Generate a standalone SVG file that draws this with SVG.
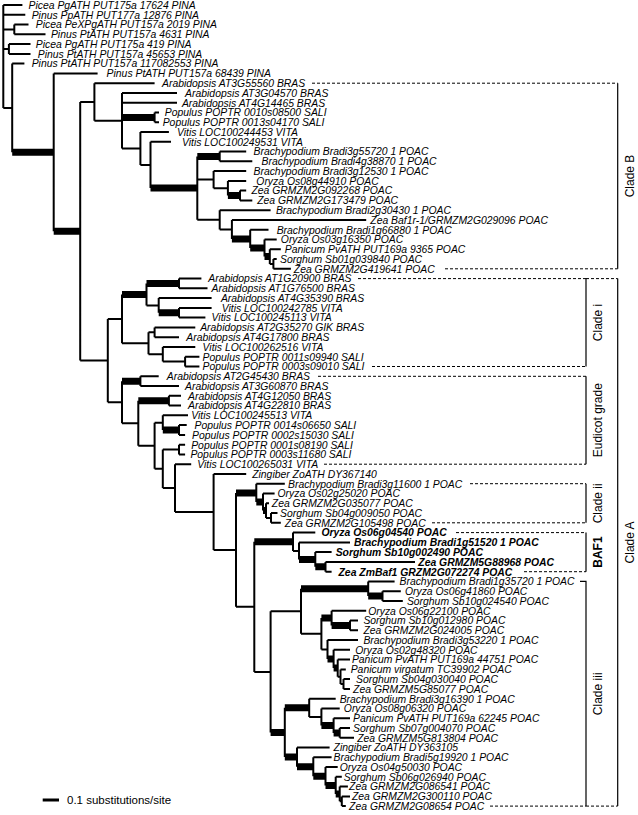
<svg xmlns="http://www.w3.org/2000/svg" width="638" height="815" viewBox="0 0 638 815">
<style>
.thin{fill:none;stroke:#000;stroke-width:2;stroke-linecap:butt}
.thick{fill:none;stroke:#000;stroke-width:7;stroke-linecap:butt}
.br{fill:none;stroke:#000;stroke-width:1.2}
.dash{fill:none;stroke:#000;stroke-width:1;stroke-dasharray:3 2}
.t{font-family:"Liberation Sans",Arial,sans-serif;font-size:10.4px;font-style:italic;fill:#000}
.b{font-weight:bold}
.cl{font-family:"Liberation Sans",Arial,sans-serif;font-size:12px;fill:#000;text-anchor:middle}
</style>
<rect width="638" height="815" fill="#fff"/>
<g id="connectors">
<path class="thin" d="M3.3 5V108M3.3 5H22.4M3.3 14.8H25.3M3.3 29.4H14.3M3.3 49H8.9M3.3 108H12.2
M14.3 24.5V34.3M14.3 24.5H28.5M14.3 34.3H45.5
M8.9 44.1V53.9M8.9 44.1H30.5M8.9 53.9H30.5
M12.2 63.6V152.3M12.2 63.6H24.4
M53.7 73.4V231.2M53.7 73.4H97.6
M80.2 101.9V360.5M80.2 101.9H94.4M80.2 360.5H107.8
M94.4 83.2V120.7M94.4 83.2H154.6M94.4 120.7H122
M122 92.9V148.5M122 92.9H177M122 102.7H177M122 148.5H140.4
M154.6 112.5V122.2M154.6 112.5H159M154.6 122.2H159
M140.4 132V165M140.4 132H168.9M140.4 165H150.5
M150.5 141.8V188.1M150.5 141.8H171
M197.3 156.4V219.8M197.3 179.6H213.6M197.3 219.8H219.7
M219.7 151.6V161.3M219.7 151.6H246.2M219.7 161.3H252.3
M213.6 171.1V188.2M213.6 171.1H246.2M213.6 188.2H227.9
M227.9 180.9V195.5M227.9 180.9H246.2
M240 190.6V200.4M240 190.6H246.2M240 200.4H252.3
M219.7 210.2V229.4M219.7 210.2H270.6M219.7 229.4H231.9
M231.9 219.9V238.9M231.9 219.9H366.2
M250.2 229.7V248M250.2 229.7H268.5
M264.5 239.5V256.6M264.5 239.5H276.7
M269.8 249.3V263.9M269.8 249.3H280.8M269.8 263.9H273.4
M273.4 259V268.8M273.4 259H276.7M273.4 268.8H290.9
M107.8 318.9V402.2M107.8 318.9H122M107.8 402.2H122
M122 294.4V343.3M122 343.3H148.5
M146.5 283.5V305.4M146.5 305.4H158.7
M179 278.6V288.3M179 278.6H201.4M179 288.3H207.5
M158.7 298.1V312.8M158.7 298.1H211.6
M179 307.9V317.6M179 307.9H211.6M179 317.6H205.4
M148.5 332.3V354.3M148.5 332.3H154.6M148.5 354.3H162.8
M154.6 327.4V337.2M154.6 327.4H195.3M154.6 337.2H179
M162.8 347V361.6M162.8 347H195.3M162.8 361.6H185.1
M185.1 356.7V366.5M185.1 356.7H199.4M185.1 366.5H199.4
M122 381.2V423.2M122 423.2H138.3
M140.4 376.3V386M140.4 376.3H158.7M140.4 386H179
M138.3 400.7V445.7M138.3 445.7H154.6
M168.9 395.8V405.6M168.9 395.8H181M168.9 405.6H181
M154.6 422.7V468.8M154.6 422.7H162.8M154.6 468.8H162.8
M162.8 415.3V430M162.8 415.3H188
M179 425.1V434.9M179 425.1H186.7M179 434.9H185.1
M162.8 449.5V488.1M162.8 449.5H179M162.8 488.1H175
M179 444.7V454.4M179 444.7H185.1M179 454.4H185.1
M175 464.2V511.9M175 464.2H191.2M175 511.9H213.6
M213.6 474V549.9M213.6 474H246.2M213.6 549.9H236
M236 492.9V606.8M236 606.8H254.3
M256.3 483.7V502.1M256.3 483.7H284.8
M263 493.5V510.6M263 493.5H274.6
M266 503.3V517.9M266 503.3H269M266 517.9H271
M271 513V522.8M271 513H277.5M271 522.8H280.8
M254.3 541.7V671.9M254.3 671.9H270.6
M293 532.6V550.9M293 532.6H315.3M293 550.9H299
M299 542.4V559.5M299 542.4H350
M315.3 552.1V566.8M315.3 552.1H331.6
M325.5 561.9V571.7M325.5 561.9H415M325.5 571.7H331.6
M270.6 611.3V732.5M270.6 611.3H301
M301 588.8V633.8M301 633.8H321.4
M368.2 581.4V596.1M368.2 581.4H394.6
M382.5 591.2V601M382.5 591.2H400.8M382.5 601H402.8
M321.4 618.1V649.5M321.4 649.5H327.5
M331.6 610.7V625.4M331.6 610.7H366.2
M350 620.5V630.3M350 620.5H358M350 630.3H358
M327.5 640.1V659M327.5 640.1H358
M333.6 649.8V668.1M333.6 649.8H350
M337.7 659.6V676.7M337.7 659.6H350M337.7 676.7H340.5
M340.5 669.4V684M340.5 669.4H345.8M340.5 684H343.5
M343.5 679.1V688.9M343.5 679.1H350M343.5 688.9H350
M284.8 707.8V757.1
M309.2 698.7V717M309.2 698.7H335.7M309.2 717H321.4
M321.4 708.4V725.5M321.4 708.4H339.7
M333.6 718.2V732.9M333.6 718.2H350
M339.7 728V737.8M339.7 728H350M339.7 737.8H354
M297 747.5V766.8M297 747.5H329.6
M313.3 757.3V776.2M313.3 757.3H331.6
M325.5 767.1V785.4M325.5 767.1H337.7
M335.7 776.8V793.9M335.7 776.8H341.8
M339.7 786.6V801.3M339.7 786.6H347.9M339.7 801.3H341.8
M341.8 796.4V806.1M341.8 796.4H350M341.8 806.1H345.8"/>
<path class="thick" d="M12.2 152.3H53.7M53.7 231.2H80.2M122 117.4H154.6M150.5 188.1H197.3M197.3 156.4H219.7M227.9 195.5H240
M231.9 238.9H250.2M250.2 248H264.5M264.5 256.6H269.8
M122 294.4H146.5M146.5 283.5H179M158.7 312.8H179
M122 381.2H140.4M138.3 400.7H168.9M162.8 430H179
M236 492.9H256.3M256.3 502.1H263M263 510.6H266
M254.3 541.7H293M299 559.5H315.3M315.3 566.8H325.5
M301 588.8H368.2M368.2 596.1H382.5M321.4 618.1H331.6M331.6 625.4H350M327.5 659H333.6M333.6 668.1H337.7
M270.6 732.5H284.8M284.8 707.8H309.2M284.8 757.1H297M321.4 725.5H333.6M333.6 732.9H339.7
M297 766.8H313.3M313.3 776.2H325.5M325.5 785.4H335.7M335.7 793.9H339.7"/>
</g>
<g id="taxa" class="t">
<text id="n1" x="28.5" y="8.8">Picea PgATH PUT175a 17624 PINA</text>
<text id="n2" x="31.7" y="18.6">Pinus PpATH PUT177a 12876 PINA</text>
<text id="n3" x="35.8" y="28.3">Picea PeXPgATH PUT157a 2019 PINA</text>
<text id="n4" x="50.9" y="38.1">Pinus PtATH PUT157a 4631 PINA</text>
<text id="n5" x="35.8" y="47.9">Picea PgATH PUT175a 419 PINA</text>
<text id="n6" x="37.8" y="57.7">Pinus PtATH PUT157a 45653 PINA</text>
<text id="n7" x="31.7" y="67.4">Pinus PtATH PUT157a 117082553 PINA</text>
<text id="n8" x="106.6" y="77.2">Pinus PtATH PUT157a 68439 PINA</text>
<text id="n9" x="162" y="87">Arabidopsis AT3G55560 BRAS</text>
<text id="n10" x="185.1" y="96.7">Arabidopsis AT3G04570 BRAS</text>
<text id="n11" x="181.9" y="106.5">Arabidopsis AT4G14465 BRAS</text>
<text id="n12" x="164.8" y="116.3">Populus POPTR 0010s08500 SALI</text>
<text id="n13" x="162.7" y="126">Populus POPTR 0013s04170 SALI</text>
<text id="n14" x="177" y="135.8">Vitis LOC100244453 VITA</text>
<text id="n15" x="182" y="145.6">Vitis LOC100249531 VITA</text>
<text id="n16" x="253.5" y="155.4">Brachypodium Bradi3g55720 1 POAC</text>
<text id="n17" x="261.6" y="165.1">Brachypodium Bradi4g38870 1 POAC</text>
<text id="n18" x="253.5" y="174.9">Brachypodium Bradi3g12530 1 POAC</text>
<text id="n19" x="256.3" y="184.7">Oryza Os08g44910 POAC</text>
<text id="n20" x="251.4" y="194.4">Zea GRMZM2G092268 POAC</text>
<text id="n21" x="257.2" y="204.2">Zea GRMZM2G173479 POAC</text>
<text id="n22" x="275.9" y="214">Brachypodium Bradi2g30430 1 POAC</text>
<text id="n23" x="370.3" y="223.7">Zea Baf1r-1/GRMZM2G029096 POAC</text>
<text id="n24" x="276.7" y="233.5">Brachypodium Bradi1g66880 1 POAC</text>
<text id="n25" x="280.8" y="243.3">Oryza Os03g16350 POAC</text>
<text id="n26" x="284.8" y="253.1">Panicum PvATH PUT169a 9365 POAC</text>
<text id="n27" x="280" y="262.8">Sorghum Sb01g039840 POAC</text>
<text id="n28" x="293.8" y="272.6">Zea GRMZM2G419641 POAC</text>
<text id="n29" x="208.3" y="282.4">Arabidopsis AT1G20900 BRAS</text>
<text id="n30" x="211.6" y="292.1">Arabidopsis AT1G76500 BRAS</text>
<text id="n31" x="220.9" y="301.9">Arabidopsis AT4G35390 BRAS</text>
<text id="n32" x="221.7" y="311.7">Vitis LOC100242785 VITA</text>
<text id="n33" x="211.6" y="321.4">Vitis LOC100245113 VITA</text>
<text id="n34" x="200.2" y="331.2">Arabidopsis AT2G35270 GIK BRAS</text>
<text id="n35" x="186.3" y="341">Arabidopsis AT4G17800 BRAS</text>
<text id="n36" x="202.6" y="350.8">Vitis LOC100262516 VITA</text>
<text id="n37" x="202.6" y="360.5">Populus POPTR 0011s09940 SALI</text>
<text id="n38" x="202.6" y="370.3">Populus POPTR 0003s09010 SALI</text>
<text id="n39" x="166.8" y="380.1">Arabidopsis AT2G45430 BRAS</text>
<text id="n40" x="185.1" y="389.8">Arabidopsis AT3G60870 BRAS</text>
<text id="n41" x="188" y="399.6">Arabidopsis AT4G12050 BRAS</text>
<text id="n42" x="188" y="409.4">Arabidopsis AT4G22810 BRAS</text>
<text id="n43" x="191.3" y="419.1">Vitis LOC100245513 VITA</text>
<text id="n44" x="194.5" y="428.9">Populus POPTR 0014s06650 SALI</text>
<text id="n45" x="192.1" y="438.7">Populus POPTR 0002s15030 SALI</text>
<text id="n46" x="191.2" y="448.5">Populus POPTR 0001s08190 SALI</text>
<text id="n47" x="190.4" y="458.2">Populus POPTR 0003s11680 SALI</text>
<text id="n48" x="197.3" y="468">Vitis LOC100265031 VITA</text>
<text id="n49" x="252.2" y="477.8">Zingiber ZoATH DY367140</text>
<text id="n50" x="288" y="487.5">Brachypodium Bradi3g11600 1 POAC</text>
<text id="n51" x="277.5" y="497.3">Oryza Os02g25020 POAC</text>
<text id="n52" x="271.8" y="507.1">Zea GRMZM2G035077 POAC</text>
<text id="n53" x="280" y="516.8">Sorghum Sb04g009050 POAC</text>
<text id="n54" x="284.8" y="526.6">Zea GRMZM2G105498 POAC</text>
<text id="n55" class="b" x="321.4" y="536.4">Oryza Os06g04540 POAC</text>
<text id="n56" class="b" x="354" y="546.2">Brachypodium Bradi1g51520 1 POAC</text>
<text id="n57" class="b" x="335.7" y="555.9">Sorghum Sb10g002490 POAC</text>
<text id="n58" class="b" x="418.3" y="565.7">Zea GRMZM5G88968 POAC</text>
<text id="n59" class="b" x="338.5" y="575.5">Zea ZmBaf1 GRZM2G072274 POAC</text>
<text id="n60" x="399.5" y="585.2">Brachypodium Bradi1g35720 1 POAC</text>
<text id="n61" x="404.9" y="595">Oryza Os06g41860 POAC</text>
<text id="n62" x="406.9" y="604.8">Sorghum Sb10g024540 POAC</text>
<text id="n63" x="368.2" y="614.5">Oryza Os06g22100 POAC</text>
<text id="n64" x="363.4" y="624.3">Sorghum Sb10g012980 POAC</text>
<text id="n65" x="363.4" y="634.1">Zea GRMZM2G024005 POAC</text>
<text id="n66" x="363.4" y="643.9">Brachypodium Bradi3g53220 1 POAC</text>
<text id="n67" x="355.2" y="653.6">Oryza Os02g48320 POAC</text>
<text id="n68" x="351.9" y="663.4">Panicum PvATH PUT169a 44751 POAC</text>
<text id="n69" x="350.7" y="673.2">Panicum virgatum TC39902 POAC</text>
<text id="n70" x="356" y="682.9">Sorghum Sb04g030040 POAC</text>
<text id="n71" x="353.1" y="692.7">Zea GRMZM5G85077 POAC</text>
<text id="n72" x="339.7" y="702.5">Brachypodium Bradi3g16390 1 POAC</text>
<text id="n73" x="343.8" y="712.2">Oryza Os08g06320 POAC</text>
<text id="n74" x="353.1" y="722">Panicum PvATH PUT169a 62245 POAC</text>
<text id="n75" x="353.1" y="731.8">Sorghum Sb07g004070 POAC</text>
<text id="n76" x="357.2" y="741.6">Zea GRMZM5G813804 POAC</text>
<text id="n77" x="333.6" y="751.3">Zingiber ZoATH DY363105</text>
<text id="n78" x="333.6" y="761.1">Brachypodium Bradi5g19920 1 POAC</text>
<text id="n79" x="339.7" y="770.9">Oryza Os04g50030 POAC</text>
<text id="n80" x="343.8" y="780.6">Sorghum Sb06g026940 POAC</text>
<text id="n81" x="349.1" y="790.4">Zea GRMZM2G086541 POAC</text>
<text id="n82" x="351.9" y="800.2">Zea GRMZM2G300110 POAC</text>
<text id="n83" x="349.1" y="809.9">Zea GRMZM2G08654 POAC</text>
</g>
<g id="clades">
<path class="dash" d="M312 83.2H617.7M445 268.8H617.7M358 278.6H586M372 366.5H586M318 376.3H586M324 464.2H586M470 483.7H586M432 522.8H586M456 532.6H586M524 571.7H586M490 806.1H586M586 278.6H617.7M586 806.1H617.7"/>
<path class="br" d="M617.7 83.2V268.8M586 278.6V366.5M586 376.3V464.2M586 483.7V522.8M586 532.6V571.7M580 581.4H586V806.1M617.7 278.6V806.1"/>
<text class="cl" transform="translate(633.5 176) rotate(-90)">Clade B</text>
<text class="cl" transform="translate(602 322.5) rotate(-90)">Clade i</text>
<text class="cl" transform="translate(602 420.2) rotate(-90)">Eudicot grade</text>
<text class="cl" transform="translate(602 503.3) rotate(-90)">Clade ii</text>
<text class="cl" font-weight="bold" transform="translate(602 552.1) rotate(-90)">BAF1</text>
<text class="cl" transform="translate(602 693.8) rotate(-90)">Clade iii</text>
<text class="cl" transform="translate(633.5 542.4) rotate(-90)">Clade A</text>
</g>
<g id="scale">
<path d="M42.7 800H59" stroke="#000" stroke-width="3"/>
<text x="67" y="804" font-family="Liberation Sans, Arial, sans-serif" font-size="11.5">0.1 substitutions/site</text>
</g>
</svg>
